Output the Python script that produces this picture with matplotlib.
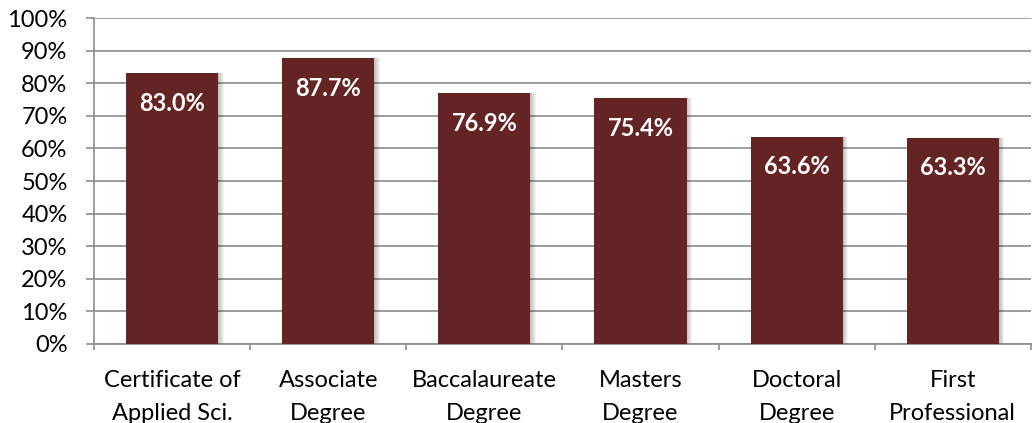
import matplotlib.pyplot as plt
import numpy as np
from matplotlib.ticker import FixedLocator, NullFormatter, FixedFormatter

categories = ["Certificate of\nApplied Sci.", "Associate\nDegree", "Baccalaureate\nDegree",
              "Masters\nDegree", "Doctoral\nDegree", "First\nProfessional"]
values = [83.0, 87.7, 76.9, 75.4, 63.6, 63.3]
y_ticks = list(range(0, 101, 10))

plt.rcParams['font.family'] = ['Lato', 'DejaVu Sans']

fig = plt.figure(figsize=(10.36, 4.23), dpi=100)
ax = fig.add_axes([0.0907, 0.1868, 0.9043, 0.7706])

x = np.arange(len(categories))
bar_color = "#632423"
width = 0.59

# soft shadow to the right / below
for k in range(6):
    off = 0.006 + k * 0.006
    ax.bar(x + off, values, width=width, color="black", alpha=0.045,
           zorder=2, linewidth=0)
ax.bar(x, values, width=width, color=bar_color, zorder=3, linewidth=0)

for xi, v in zip(x, values):
    ax.text(xi, v - 9.3, f"{v:.1f}%", ha="center", va="center",
            color="white", fontsize=17, fontweight="bold", zorder=4)

ax.set_xlim(-0.5, len(categories) - 0.5)
ax.set_ylim(0, 100)
ax.set_yticks(y_ticks)
ax.set_yticklabels([f"{t}%" for t in y_ticks], fontsize=17)
ax.yaxis.grid(True, color="#8c8c8c", linewidth=1.2, zorder=1)
ax.set_axisbelow(True)

ax.xaxis.set_major_locator(FixedLocator(np.arange(-0.5, len(categories), 1.0)))
ax.xaxis.set_major_formatter(NullFormatter())
ax.xaxis.set_minor_locator(FixedLocator(x))
ax.xaxis.set_minor_formatter(FixedFormatter(categories))
for lbl in ax.xaxis.get_minorticklabels():
    lbl.set_linespacing(1.68)
ax.tick_params(axis="x", which="major", length=4.5, color="#8c8c8c", width=1.2)
ax.tick_params(axis="x", which="minor", length=0, labelsize=17, pad=19)
ax.tick_params(axis="y", length=6, color="#8c8c8c", width=1.2, pad=13)

for s in ["top", "right"]:
    ax.spines[s].set_visible(False)
for s in ["left", "bottom"]:
    ax.spines[s].set_color("#8c8c8c")
    ax.spines[s].set_linewidth(1.2)

plt.savefig("out.png", dpi=100)
